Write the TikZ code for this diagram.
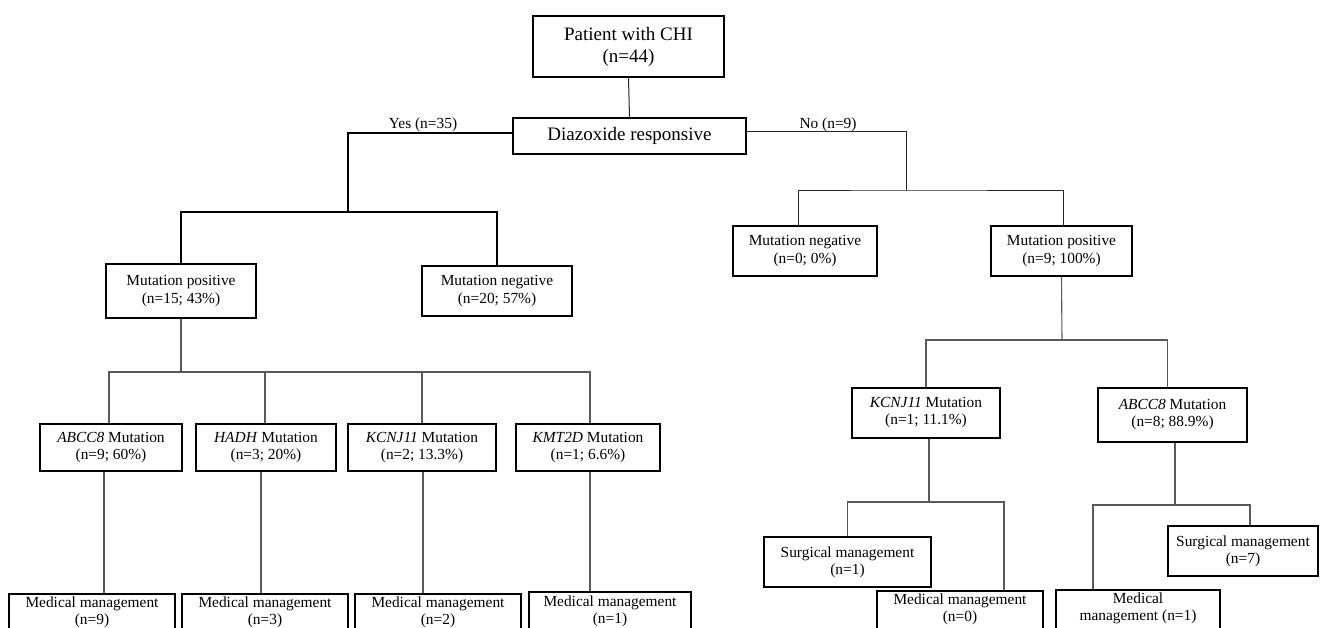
\documentclass[tikz,border=0pt]{standalone}
\usepackage{fontspec}
\setmainfont{Liberation Serif}
\begin{document}
\begin{tikzpicture}[x=1pt,y=-1pt,
  box/.style={draw=black,line width=1.6pt,fill=white,inner sep=0pt,align=center},
  big/.style={font=\fontsize{19}{22}\selectfont},
  mid/.style={font=\fontsize{15.4}{17.5}\selectfont},
  small/.style={font=\fontsize{15.4}{17}\selectfont},
  conn/.style={draw=black!85,line width=1pt},
  lowconn/.style={draw=black!65,line width=1.1pt},
  thickconn/.style={draw=black,line width=1.8pt},
  lbl/.style={font=\fontsize{15.4}{17}\selectfont,inner sep=0pt}]
\useasboundingbox (0,0) rectangle (1320,628);
\begin{scope}
\clip (0,0) rectangle (1320,628);
% top level
\node[box,big,minimum width=191pt,minimum height=61pt] (top) at (628.5,46.5) {Patient with CHI\\(n=44)};
\node[box,big,minimum width=233pt,minimum height=36pt] (diaz) at (629.5,136) {Diazoxide responsive};
% second level
\node[box,mid,minimum width=150pt,minimum height=54pt] (lmp) at (181,291) {Mutation positive\\(n=15; 43\%)};
\node[box,mid,minimum width=150pt,minimum height=50pt] (lmn) at (497,291) {Mutation negative\\(n=20; 57\%)};
\node[box,mid,minimum width=144pt,minimum height=50pt] (rmn) at (805,251) {Mutation negative\\(n=0; 0\%)};
\node[box,mid,minimum width=141pt,minimum height=50pt] (rmp) at (1061.5,251) {Mutation positive\\(n=9; 100\%)};
% gene level left
\node[box,small,minimum width=142pt,minimum height=47pt] (g1) at (111,447.5) {\textit{ABCC8} Mutation\\(n=9; 60\%)};
\node[box,small,minimum width=140pt,minimum height=47pt] (g2) at (266,447.5) {\textit{HADH} Mutation\\(n=3; 20\%)};
\node[box,small,minimum width=148pt,minimum height=47pt] (g3) at (422,447.5) {\textit{KCNJ11} Mutation\\(n=2; 13.3\%)};
\node[box,small,minimum width=144pt,minimum height=47pt] (g4) at (588,447.5) {\textit{KMT2D} Mutation\\(n=1; 6.6\%)};
% management left
\node[box,small,minimum width=166pt,minimum height=56pt] (m1) at (92,622) {Medical management\\(n=9)\\[6pt]};
\node[box,small,minimum width=166pt,minimum height=56pt] (m2) at (265,622) {Medical management\\(n=3)\\[6pt]};
\node[box,small,minimum width=166pt,minimum height=56pt] (m3) at (438,622) {Medical management\\(n=2)\\[6pt]};
\node[box,small,minimum width=162pt,minimum height=58pt] (m4) at (610,621) {Medical management\\(n=1)\\[6pt]};
% gene level right
\node[box,small,minimum width=148pt,minimum height=50pt] (rk) at (926,413) {\textit{KCNJ11} Mutation\\(n=1; 11.1\%)};
\node[box,small,minimum width=149pt,minimum height=54pt] (ra) at (1172.5,415) {\textit{ABCC8} Mutation\\(n=8; 88.9\%)};
% management right
\node[box,small,minimum width=167pt,minimum height=50pt] (s1) at (847.5,562) {Surgical management\\(n=1)};
\node[box,small,minimum width=150pt,minimum height=50pt] (s7) at (1243,551) {Surgical management\\(n=7)};
\node[box,small,minimum width=166pt,minimum height=56pt] (mn0) at (960,619) {Medical management\\(n=0)\\[6pt]};
\node[box,small,minimum width=164pt,minimum height=56pt] (mn1) at (1138,618) {Medical\\management (n=1)\\[6pt]};
% branch points
\coordinate (yb) at (348,212);
\coordinate (nb) at (906,191);
\coordinate (lb) at (181,372);
\coordinate (rb) at (1062,340);
\coordinate (kb) at (929,502);
\coordinate (ab) at (1175,505);
% labels
\node[lbl] (yes) at (423,125) {Yes (n=35)};
\node[lbl] (no) at (828,125) {No (n=9)};
\end{scope}
% connectors
\draw[conn] (top.south) -- (diaz.north);
\draw[thickconn] ([yshift=3pt]diaz.west) -| (yb);
\draw[thickconn] (lmp.north) |- (yb) -| (lmn.north);
\draw[conn] ([yshift=4pt]diaz.east) -| (nb);
\draw[conn] ([xshift=-7pt]rmn.north) |- (nb) -| ([xshift=2pt]rmp.north);
\draw[lowconn] (lmp.south) -- (lb);
\draw[lowconn] ([xshift=-2pt]g1.north) |- (lb) -| ([xshift=2pt]g4.north);
\draw[lowconn] ([xshift=-1pt]g2.north) -- ([xshift=-1pt]g2.north |- lb);
\draw[lowconn] (g3.north) -- (g3.north |- lb);
\draw[lowconn] ([xshift=-7pt]g1.south) -- ([xshift=-7pt]g1.south |- m1.north);
\draw[lowconn] ([xshift=-5pt]g2.south) -- ([xshift=-5pt]g2.south |- m2.north);
\draw[lowconn] ([xshift=1pt]g3.south) -- ([xshift=1pt]g3.south |- m3.north);
\draw[lowconn] ([xshift=2pt]g4.south) -- ([xshift=2pt]g4.south |- m4.north);
\draw[lowconn] (rmp.south) -- (rb);
\draw[lowconn] (rk.north) |- (rb) -| ([xshift=-5pt]ra.north);
\draw[lowconn] ([xshift=3pt]rk.south) -- (kb);
\draw[lowconn] (s1.north) |- (kb) -| ([xshift=44pt]mn0.north);
\draw[lowconn] ([xshift=2.5pt]ra.south) -- (ab);
\draw[lowconn] ([xshift=-45pt]mn1.north) |- (ab) -| ([xshift=7pt]s7.north);
\end{tikzpicture}
\end{document}
